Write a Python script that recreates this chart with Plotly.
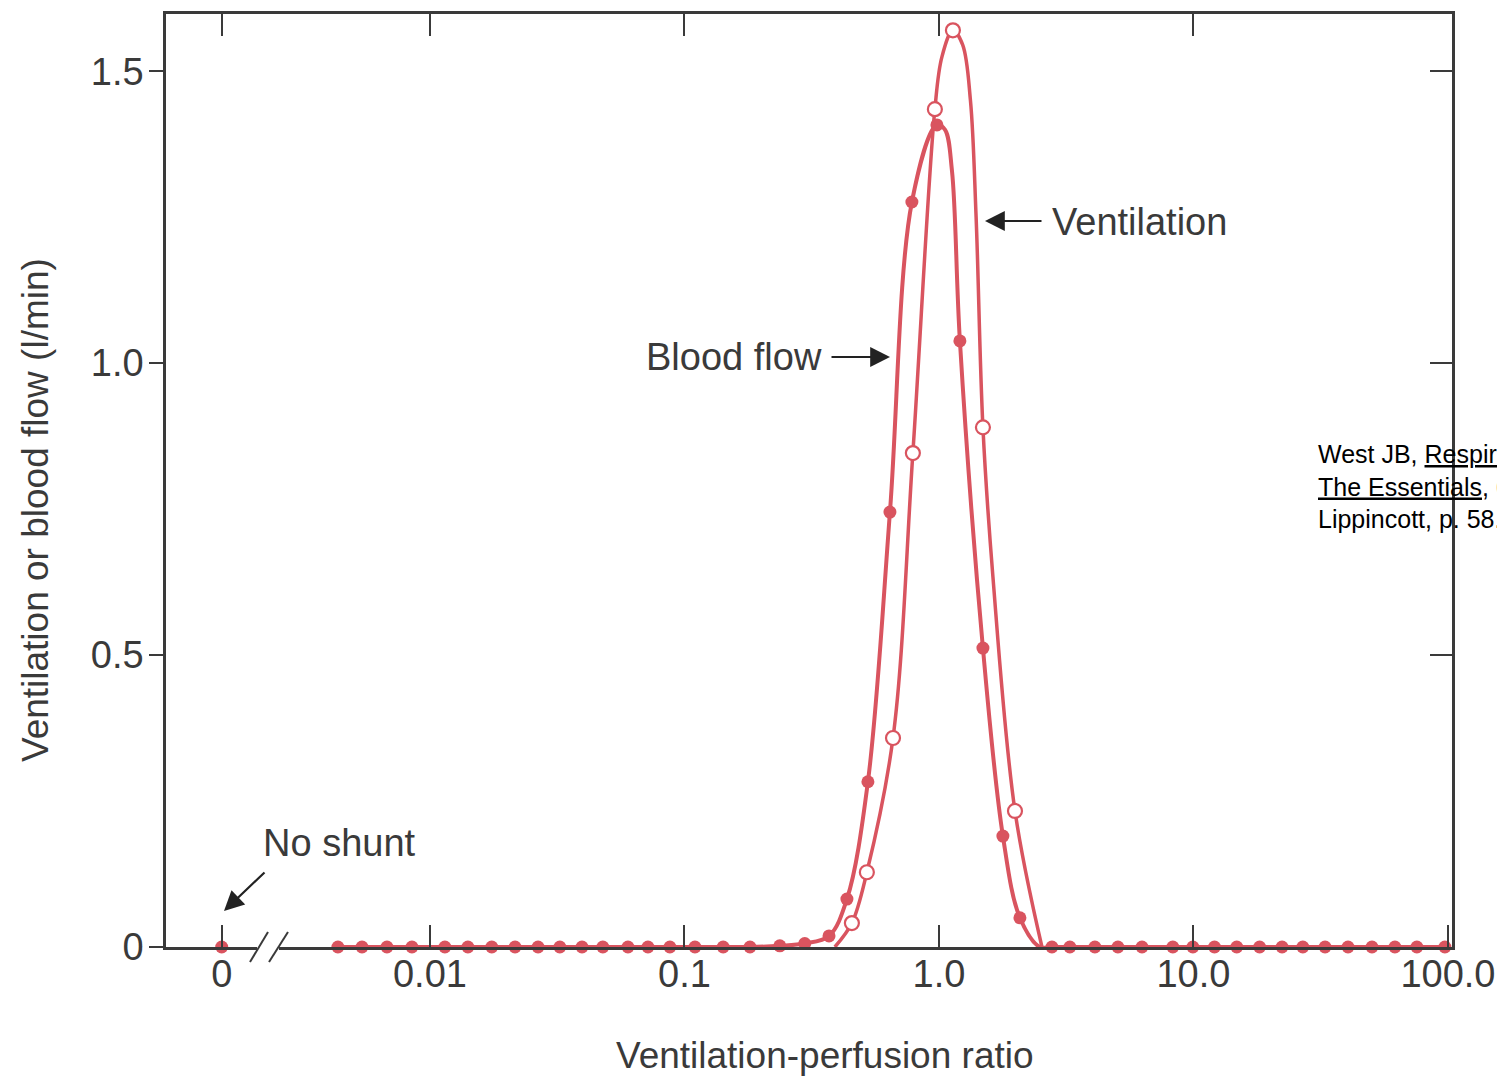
import plotly.graph_objects as go

# ventilation-perfusion ratio of each compartment (filled dots = blood flow)
BLOOD_RATIO = [0.00435, 0.00541, 0.00678, 0.0085, 0.01145, 0.0141, 0.0175, 0.0216,
               0.0266, 0.0324, 0.0396, 0.0478, 0.060, 0.0719, 0.0877, 0.110, 0.142,
               0.181, 0.237, 0.297, 0.370, 0.435, 0.526, 0.642, 0.783, 0.982, 1.209,
               1.489, 1.784, 2.081, 2.78, 3.27, 4.10, 5.05, 6.28, 8.30, 9.95, 12.1,
               14.8, 18.2, 22.3, 26.9, 32.9, 40.5, 50.3, 61.9, 75.5, 97.3]
BLOOD_FLOW = [0, 0, 0, 0, 0, 0, 0, 0,
              0, 0, 0, 0, 0, 0, 0, 0, 0,
              0, 0.002, 0.006, 0.019, 0.082, 0.283, 0.745, 1.276, 1.408, 1.038,
              0.512, 0.190, 0.050, 0, 0, 0, 0, 0, 0, 0, 0,
              0, 0, 0, 0, 0, 0, 0, 0, 0, 0]

BLOOD_CURVE_RATIO = [1.056, 1.125, 2.49]
BLOOD_CURVE = [1.40, 1.33, 0]

# open circles = ventilation
VENT_RATIO = [0.455, 0.521, 0.660, 0.790, 0.964, 1.135, 1.489, 1.990]
VENTILATION = [0.041, 0.128, 0.358, 0.846, 1.435, 1.570, 0.890, 0.233]

# extra points
VENT_CURVE_RATIO = [0.390, 1.028, 1.240, 1.330, 1.400, 1.630, 2.540]
VENT_CURVE = [0, 1.525, 1.545, 1.45, 1.25, 0.634, 0]

SHUNT = [0]  # "No shunt" compartment, drawn at the broken "0" position
SHUNT_POS = 0.00152

X_TICKS = [SHUNT_POS, 0.01, 0.1, 1, 10, 100]
X_TICK_TEXT = ["0", "0.01", "0.1", "1.0", "10.0", "100.0"]
Y_TICKS = [0, 0.5, 1.0, 1.5]
Y_TICK_TEXT = ["0", "0.5", "1.0", "1.5"]

RED = "#d9545f"
AX = "#3a3a3a"
TXT = "#3a3a3a"
FONT = "Liberation Sans, Arial, sans-serif"


def merged(xs1, ys1, xs2, ys2):
    pts = sorted(zip(list(xs1) + list(xs2), list(ys1) + list(ys2)))
    return [p[0] for p in pts], [p[1] for p in pts]


def px_x(p):
    # paper coords from page pixel positions of the plot frame
    return (p - 166) / 1286


def px_y(p):
    return (947 - p) / 933


def label(fig, text, x, y, size=38, **kw):
    fig.add_annotation(text=text, xref="paper", yref="paper", x=px_x(x), y=px_y(y),
                       showarrow=False, xanchor=kw.pop("xanchor", "center"),
                       yanchor="middle", font=dict(size=size, color=TXT), **kw)


def plot_va_q():
    fig = go.Figure()

    bx, by = merged(BLOOD_RATIO, BLOOD_FLOW, BLOOD_CURVE_RATIO, BLOOD_CURVE)
    vx, vy = merged(VENT_RATIO, VENTILATION, VENT_CURVE_RATIO, VENT_CURVE)

    # curves
    fig.add_trace(go.Scatter(x=vx, y=vy, mode="lines", cliponaxis=False,
                             line=dict(color=RED, width=3.5, shape="spline", smoothing=1)))
    fig.add_trace(go.Scatter(x=bx, y=by, mode="lines", cliponaxis=False,
                             line=dict(color=RED, width=4, shape="spline", smoothing=1)))
    # markers
    fig.add_trace(go.Scatter(x=BLOOD_RATIO, y=BLOOD_FLOW, mode="markers", cliponaxis=False,
                             marker=dict(color=RED, size=13, line=dict(width=0))))
    fig.add_trace(go.Scatter(x=VENT_RATIO, y=VENTILATION, mode="markers", cliponaxis=False,
                             marker=dict(color="white", size=14, line=dict(color=RED, width=2.2))))
    fig.add_trace(go.Scatter(x=[SHUNT_POS], y=SHUNT, mode="markers", cliponaxis=False,
                             marker=dict(color=RED, size=13)))
    # empty trace so the top/right mirror axes get drawn
    fig.add_trace(go.Scatter(x=[], y=[], xaxis="x2", yaxis="y2"))

    axis_common = dict(showgrid=False, zeroline=False, showline=True, linecolor=AX,
                       linewidth=2.5, tickcolor=AX, tickwidth=2)

    # page has an 8px body margin, so the figure is 8px smaller than the window
    fig.update_layout(
        width=1497, height=1069,
        margin=dict(l=158, r=53, t=6, b=130),
        showlegend=False,
        plot_bgcolor="white", paper_bgcolor="white",
        font=dict(family=FONT, color=TXT, size=38),
        xaxis=dict(type="log", range=[-3.037, 2.016], tickvals=X_TICKS, ticktext=X_TICK_TEXT,
                   ticks="inside", ticklen=22, tickfont=dict(size=38, color=TXT),
                   ticklabelstandoff=-8, **axis_common),
        xaxis2=dict(type="log", range=[-3.037, 2.016], overlaying="x", side="top",
                    tickvals=X_TICKS[:-1], ticks="inside", ticklen=22, showticklabels=False,
                    **axis_common),
        yaxis=dict(range=[0, 1.598], tickvals=Y_TICKS, ticktext=Y_TICK_TEXT,
                   ticks="outside", ticklen=14, tickfont=dict(size=38, color=TXT),
                   ticklabelstandoff=-2, **axis_common),
        yaxis2=dict(range=[0, 1.598], overlaying="y", side="right", tickvals=Y_TICKS[1:],
                    ticks="inside", ticklen=22, showticklabels=False, **axis_common),
    )

    # axis break on the x axis
    fig.add_shape(type="rect", xref="paper", yref="paper", layer="above",
                  x0=px_x(257), x1=px_x(279), y0=px_y(951), y1=px_y(943),
                  fillcolor="white", line=dict(width=0))
    for a, b in [(250, 268), (269, 288)]:
        fig.add_shape(type="line", xref="paper", yref="paper", layer="above",
                      x0=px_x(a), y0=px_y(962), x1=px_x(b), y1=px_y(932),
                      line=dict(color=AX, width=2))

    # axis titles
    label(fig, "Ventilation-perfusion ratio", 825, 1055, size=37)
    label(fig, "Ventilation or blood flow (l/min)", 35, 510, size=37, textangle=-90)

    # labels with arrows
    arrow = dict(showarrow=True, arrowhead=2, arrowsize=1.8, arrowwidth=2.2, arrowcolor="#222",
                 xref="paper", yref="paper", axref="pixel", ayref="pixel", text="")
    fig.add_annotation(x=px_x(985), y=px_y(221), ax=58, ay=0, **arrow)
    label(fig, "Ventilation", 1050, 222, xanchor="left")
    fig.add_annotation(x=px_x(890), y=px_y(357), ax=-60, ay=0, **arrow)
    label(fig, "Blood flow", 824, 357, xanchor="right")
    fig.add_annotation(x=px_x(224), y=px_y(911), ax=42, ay=-40, **arrow)
    label(fig, "No shunt", 339, 843)

    # citation (runs off the right edge like in the slide)
    fig.add_annotation(
        text="West JB, <u>Respiratory Physiology:</u><br><u>The Essentials</u>, 6th ed.,<br>Lippincott, p. 58.",
        xref="paper", yref="paper", x=px_x(1316), y=px_y(487), xanchor="left", yanchor="middle",
        align="left", showarrow=False,
        font=dict(size=25, color="black", family="Arial, Liberation Sans"))
    return fig


fig = plot_va_q()
fig.write_html("out.html")
